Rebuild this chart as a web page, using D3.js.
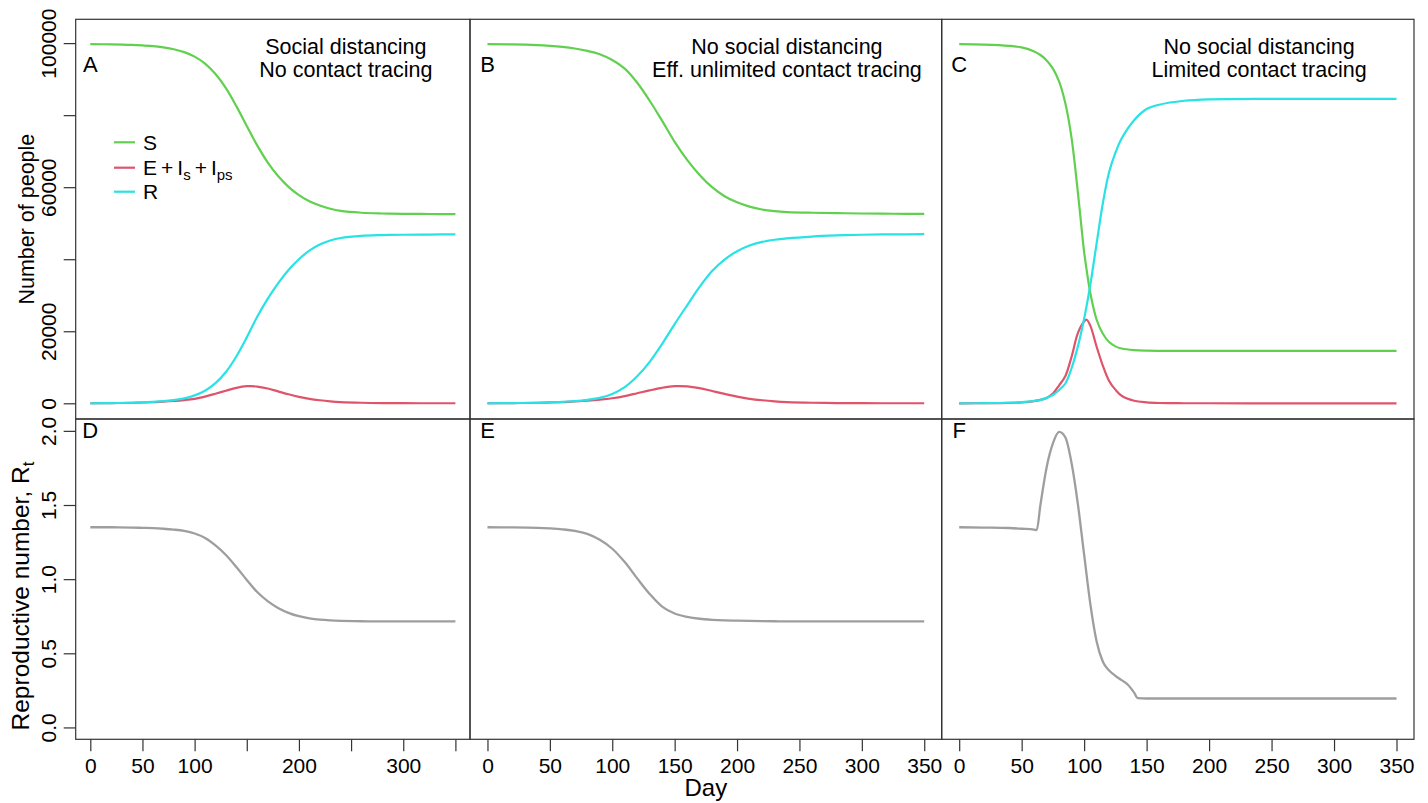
<!DOCTYPE html>
<html>
<head>
<meta charset="utf-8">
<script src="https://cdn.jsdelivr.net/npm/d3@7"></script>
<style>
  body { margin: 0; background: #fff; }
  svg { font-family: "Liberation Sans", Arial, sans-serif; }
</style>
</head>
<body>
<script>
// days used by panels A, B, D, E
const daysAB = [0, 20, 40, 50, 60, 70, 80, 90, 100, 110, 120, 130, 140, 150, 160, 170, 180, 190, 200, 210, 220, 230, 240, 260, 280, 300, 325, 350]

// A: social distancing, no contact tracing
const sA = [99700, 99650, 99500, 99350, 99150, 98800, 98300, 97500, 96250, 94300, 91400, 87500, 82500, 77000, 71600, 66900, 63100, 60100, 57800, 56100, 54900, 54000, 53400, 52900, 52700, 52600, 52550, 52500]
const eA = [10, 50, 150, 220, 320, 460, 650, 900, 1250, 1850, 2650, 3500, 4300, 4750, 4650, 4100, 3300, 2500, 1800, 1250, 850, 550, 350, 150, 60, 25, 10, 5]
const rA = [0, 50, 150, 250, 400, 600, 900, 1350, 2200, 3500, 5600, 8700, 13000, 18300, 24000, 29000, 33300, 37000, 40000, 42400, 44100, 45200, 45900, 46500, 46700, 46800, 46850, 46900]

// B: no social distancing, eff. unlimited contact tracing
const sB = [99700, 99650, 99450, 99250, 98950, 98500, 97850, 96900, 95300, 92900, 89000, 84000, 78400, 72600, 67600, 63400, 60000, 57500, 55800, 54600, 53800, 53350, 53100, 52900, 52800, 52700, 52620, 52580]
const eB = [10, 50, 150, 230, 340, 500, 720, 1000, 1400, 2000, 2800, 3600, 4300, 4750, 4700, 4200, 3400, 2600, 1850, 1250, 850, 550, 350, 150, 60, 25, 10, 5]
const rB = [0, 50, 150, 250, 400, 600, 950, 1500, 2600, 4500, 7500, 11500, 16500, 22000, 27200, 32300, 36700, 39900, 42200, 43800, 44800, 45400, 45800, 46300, 46600, 46800, 46900, 46950]

// C: no social distancing, limited contact tracing
const daysC = [0, 20, 40, 50, 60, 65, 70, 75, 80, 85, 90, 95, 100, 102, 105, 110, 115, 120, 125, 130, 140, 150, 160, 180, 200, 250, 300, 350]
const sC = [99700, 99600, 99250, 98800, 97700, 96700, 95200, 92900, 89300, 83200, 73500, 58500, 42000, 37000, 30500, 23200, 19300, 17000, 15800, 15200, 14750, 14600, 14550, 14530, 14530, 14530, 14530, 14530]
const eC = [0, 30, 130, 280, 620, 950, 1500, 2700, 5000, 7600, 13000, 19500, 22700, 23200, 21500, 15700, 10400, 6200, 3800, 2100, 700, 250, 80, 15, 5, 0, 0, 0]
const rC = [0, 30, 150, 300, 650, 950, 1500, 2300, 3700, 5500, 9800, 15800, 23500, 27100, 33000, 44400, 55600, 64200, 69500, 73500, 78600, 81700, 82900, 84000, 84400, 84530, 84530, 84530]

// reproductive number
const rtD = [1.350, 1.350, 1.348, 1.346, 1.344, 1.340, 1.334, 1.325, 1.308, 1.278, 1.228, 1.163, 1.082, 0.995, 0.913, 0.852, 0.806, 0.773, 0.750, 0.736, 0.727, 0.722, 0.719, 0.716, 0.715, 0.715, 0.715, 0.715]
const rtE = [1.350, 1.349, 1.346, 1.342, 1.336, 1.326, 1.305, 1.265, 1.205, 1.115, 1.005, 0.900, 0.815, 0.768, 0.746, 0.733, 0.726, 0.722, 0.720, 0.718, 0.717, 0.716, 0.715, 0.715, 0.715, 0.715, 0.715, 0.715]
const daysF = [0, 20, 40, 50, 60, 62, 65, 70, 75, 80, 85, 90, 95, 100, 105, 110, 115, 120, 125, 130, 135, 140, 143, 150, 200, 250, 300, 350]
const rtF = [1.350, 1.348, 1.345, 1.340, 1.334, 1.330, 1.500, 1.755, 1.915, 1.993, 1.955, 1.780, 1.505, 1.165, 0.830, 0.580, 0.443, 0.384, 0.348, 0.319, 0.288, 0.235, 0.197, 0.195, 0.195, 0.195, 0.195, 0.195]

// axes
const xTicks = [0, 50, 100, 150, 200, 250, 300, 350]
const xLabelsA = [0, 50, 100, 200, 300]
const yTicksTop = [0, 20000, 40000, 60000, 80000, 100000]
const yLabelsTop = [0, 20000, 60000, 100000]
const yTicksBottom = [0, 0.5, 1, 1.5, 2]

const seriesNames = ['S', 'E', 'R']
const seriesColors = ['#61D04F', '#DF536B', '#28E2E5']
const rtColor = '#9E9E9E'

const titles = [
  ['Social distancing', 'No contact tracing'],
  ['No social distancing', 'Eff. unlimited contact tracing'],
  ['No social distancing', 'Limited contact tracing']
]
const letters = ['A', 'B', 'C', 'D', 'E', 'F']

const W = 1428, H = 803
const frameColor = '#333'

const svg = d3.select('body').append('svg')
  .attr('width', W)
  .attr('height', H)

const cols = [[75.7, 470], [470, 941.7], [941.7, 1414]]
const topRow = [19.3, 419]
const botRow = [419, 739.3]

const xDomain = [-14, 364]
const yTop = d3.scaleLinear().domain([-4361, 106611]).range([topRow[1], topRow[0]])
const yBot = d3.scaleLinear().domain([-0.08, 2.08]).range([botRow[1], botRow[0]])

const topPanels = [
  { days: daysAB, series: [sA, eA, rA], titleX: 245 },
  { days: daysAB, series: [sB, eB, rB], titleX: 240 },
  { days: daysC, series: [sC, eC, rC], titleX: 240 }
]
const bottomPanels = [
  { days: daysAB, rt: rtD, curve: d3.curveCatmullRom },
  { days: daysAB, rt: rtE, curve: d3.curveCatmullRom },
  { days: daysF, rt: rtF, curve: d3.curveMonotoneX }
]

const xScales = cols.map(c => d3.scaleLinear().domain(xDomain).range(c))

// curves, top row
topPanels.forEach((p, i) => {
  let x = xScales[i]
  let g = svg.append('g')
  p.series.forEach((vals, k) => {
    let line = d3.line()
      .x((d, j) => x(p.days[j]))
      .y(d => yTop(d))
      .curve(d3.curveCatmullRom)
    g.append('path')
      .attr('d', line(vals))
      .attr('fill', 'none')
      .attr('stroke', seriesColors[k])
      .attr('stroke-width', 2.2)
  })

  // scenario text
  let t = g.append('text')
    .attr('text-anchor', 'middle')
    .attr('font-size', 21.5)
    .attr('fill', '#000')
  t.append('tspan').attr('x', x(p.titleX)).attr('y', 54.3).text(titles[i][0])
  t.append('tspan').attr('x', x(p.titleX)).attr('y', 76.7).text(titles[i][1])

  g.append('text')
    .attr('x', x(0)).attr('y', 71.5)
    .attr('text-anchor', 'middle')
    .attr('font-size', 22)
    .text(letters[i])
})

// curves, bottom row
bottomPanels.forEach((p, i) => {
  let x = xScales[i]
  let line = d3.line()
    .x((d, j) => x(p.days[j]))
    .y(d => yBot(d))
    .curve(p.curve)
  svg.append('path')
    .attr('d', line(p.rt))
    .attr('fill', 'none')
    .attr('stroke', rtColor)
    .attr('stroke-width', 2.3)

  svg.append('text')
    .attr('x', x(0)).attr('y', 438.3)
    .attr('text-anchor', 'middle')
    .attr('font-size', 22)
    .text(letters[i + 3])
})

// frames
cols.forEach(c => {
  [topRow, botRow].forEach(r => {
    svg.append('rect')
      .attr('x', c[0]).attr('y', r[0])
      .attr('width', c[1] - c[0]).attr('height', r[1] - r[0])
      .attr('fill', 'none')
      .attr('stroke', frameColor)
      .attr('stroke-width', 1.2)
  })
})

function styleAxis(g) {
  g.attr('font-size', 21).attr('font-family', null)
  g.select('.domain').remove()
  g.selectAll('.tick line').attr('stroke', frameColor).attr('stroke-width', 1.2)
  g.selectAll('.tick text').attr('fill', '#000')
}

// x axes
xScales.forEach((x, i) => {
  let labels = i == 0 ? xLabelsA : xTicks
  let axis = d3.axisBottom(x)
    .tickValues(xTicks)
    .tickSize(12)
    .tickPadding(7)
    .tickFormat(d => labels.includes(d) ? d : '')
  svg.append('g')
    .attr('transform', `translate(0,${botRow[1]})`)
    .call(axis)
    .call(styleAxis)
})

// y axes (labels rotated, as in base R)
function yAxis(scale, ticks, fmt) {
  let g = svg.append('g')
    .attr('transform', `translate(${cols[0][0]},0)`)
    .call(d3.axisLeft(scale).tickValues(ticks).tickSize(12).tickFormat(fmt))
    .call(styleAxis)
  g.selectAll('.tick text')
    .attr('transform', 'rotate(-90)')
    .attr('x', 0)
    .attr('y', -20)
    .attr('dy', 0)
    .attr('text-anchor', 'middle')
}
yAxis(yTop, yTicksTop, d => yLabelsTop.includes(d) ? d : '')
yAxis(yBot, yTicksBottom, d3.format('.1f'))

// axis titles
svg.append('text')
  .attr('transform', `translate(33.5,${(topRow[0] + topRow[1]) / 2}) rotate(-90)`)
  .attr('text-anchor', 'middle')
  .attr('font-size', 21.5)
  .text('Number of people')

let rtLab = svg.append('text')
  .attr('transform', 'translate(28.5,596) rotate(-90)')
  .attr('text-anchor', 'middle')
  .attr('font-size', 24.5)
rtLab.append('tspan').text('Reproductive number,  R')
rtLab.append('tspan').attr('font-size', 17).attr('dy', 5).text('t')

svg.append('text')
  .attr('x', (cols[1][0] + cols[1][1]) / 2)
  .attr('y', 796)
  .attr('text-anchor', 'middle')
  .attr('font-size', 24)
  .text('Day')

// legend in panel A
const legendRows = [142.3, 167.7, 191.7]
let legend = svg.append('g')
seriesNames.forEach((name, k) => {
  let yy = legendRows[k]
  legend.append('line')
    .attr('x1', 114).attr('x2', 135)
    .attr('y1', yy).attr('y2', yy)
    .attr('stroke', seriesColors[k])
    .attr('stroke-width', 2.2)
  let t = legend.append('text')
    .attr('x', 143).attr('y', yy + 7.5)
    .attr('font-size', 21)
  if (name == 'E') {
    t.append('tspan').text('E')
    t.append('tspan').attr('dx', 4).text('+')
    t.append('tspan').attr('dx', 4).text('I')
    t.append('tspan').attr('font-size', 15).attr('dy', 5).text('s')
    t.append('tspan').attr('dy', -5).attr('dx', 4).text('+')
    t.append('tspan').attr('dx', 4).text('I')
    t.append('tspan').attr('font-size', 15).attr('dy', 5).text('ps')
  } else {
    t.text(name)
  }
})
</script>
</body>
</html>
